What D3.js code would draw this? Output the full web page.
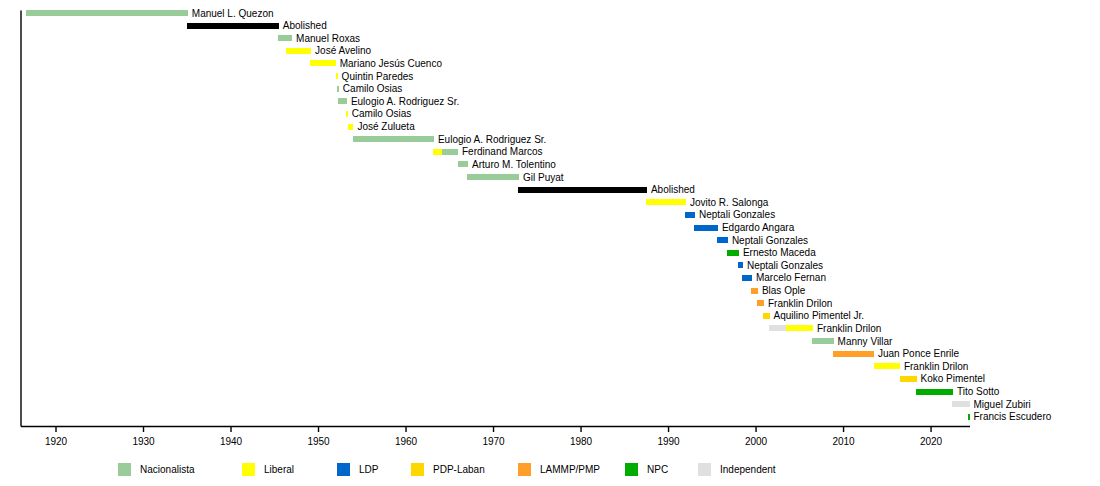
<!DOCTYPE html>
<html>
<head>
<meta charset="utf-8">
<script src="https://cdn.jsdelivr.net/npm/d3@7"></script>
<style>
  html, body { margin: 0; padding: 0; background: #fff; }
  svg { display: block; font-family: "Liberation Sans", Arial, Helvetica, sans-serif; }
</style>
</head>
<body>
<svg id="chart" width="1100" height="486"></svg>
<script>
// ---------- data ----------
const rowNames = [
  "Manuel L. Quezon", "Abolished", "Manuel Roxas", "José Avelino",
  "Mariano Jesús Cuenco", "Quintin Paredes", "Camilo Osias",
  "Eulogio A. Rodriguez Sr.", "Camilo Osias", "José Zulueta",
  "Eulogio A. Rodriguez Sr.", "Ferdinand Marcos", "Arturo M. Tolentino",
  "Gil Puyat", "Abolished", "Jovito R. Salonga", "Neptali Gonzales",
  "Edgardo Angara", "Neptali Gonzales", "Ernesto Maceda", "Neptali Gonzales",
  "Marcelo Fernan", "Blas Ople", "Franklin Drilon", "Aquilino Pimentel Jr.",
  "Franklin Drilon", "Manny Villar", "Juan Ponce Enrile", "Franklin Drilon",
  "Koko Pimentel", "Tito Sotto", "Miguel Zubiri", "Francis Escudero"
];

// one entry per bar segment
const termRow   = [0, 1, 2, 3, 4, 5, 6, 7, 8, 9, 10, 11, 11, 12, 13, 14, 15, 16, 17, 18, 19, 20, 21, 22, 23, 24, 25, 25, 26, 27, 28, 29, 30, 31, 32];
const termStart = [1916.65, 1935.04, 1945.44, 1946.36, 1949.10, 1952.02, 1952.18, 1952.29, 1953.20, 1953.40,
                   1953.99, 1963.14, 1964.17, 1966.00, 1967.03, 1972.85, 1987.48, 1991.93, 1992.95, 1995.58,
                   1996.73, 1997.99, 1998.44, 1999.47, 2000.16, 2000.84, 2001.53, 2003.47, 2006.44, 2008.84,
                   2013.53, 2016.50, 2018.33, 2022.44, 2024.33];
const termEnd   = [1935.12, 1945.52, 1947.04, 1949.21, 1952.02, 1952.24, 1952.38, 1953.30, 1953.40, 1954.05,
                   1963.25, 1964.17, 1966.00, 1967.15, 1972.97, 1987.59, 1992.05, 1993.08, 1995.70, 1996.84,
                   1998.10, 1998.56, 1999.59, 2000.27, 2000.96, 2001.60, 2003.47, 2006.56, 2008.92, 2013.53,
                   2016.50, 2018.40, 2022.56, 2024.45, 2024.45];
const termParty = ["Nacionalista", "Abolished", "Nacionalista", "Liberal", "Liberal", "Liberal", "Nacionalista",
                   "Nacionalista", "Liberal", "Liberal", "Nacionalista", "Liberal", "Nacionalista", "Nacionalista",
                   "Nacionalista", "Abolished", "Liberal", "LDP", "LDP", "LDP", "NPC", "LDP", "LDP",
                   "LAMMP/PMP", "LAMMP/PMP", "PDP-Laban", "Independent", "Liberal", "Nacionalista",
                   "LAMMP/PMP", "Liberal", "PDP-Laban", "NPC", "Independent", "NPC"];

const legendParties = ["Nacionalista", "Liberal", "LDP", "PDP-Laban", "LAMMP/PMP", "NPC", "Independent"];
const tickYears = [1920, 1930, 1940, 1950, 1960, 1970, 1980, 1990, 2000, 2010, 2020];
const yearDomain = [1916, 2024.45];

// ---------- layout ----------
const svg = d3.select("#chart");
const color = d3.scaleOrdinal()
  .domain(["Nacionalista", "Liberal", "LDP", "PDP-Laban", "LAMMP/PMP", "NPC", "Independent", "Abolished"])
  .range(["#99cc99", "#ffff00", "#0066cc", "#ffd700", "#ff9f29", "#00ac00", "#e0e0e0", "#000000"]);

const x = d3.scaleLinear().domain(yearDomain).range([20.5, 969.5]);
const y = d3.scalePoint().domain(d3.range(rowNames.length)).range([13, 416.8]);
const barH = 6;

const terms = termRow.map((r, i) => ({ row: r, start: termStart[i], end: termEnd[i], party: termParty[i] }));

// bars
svg.append("g").selectAll("rect").data(terms).join("rect")
  .attr("x", d => x(d.start))
  .attr("y", d => y(d.row) - barH / 2)
  .attr("width", d => Math.max(1, x(d.end) - x(d.start)))
  .attr("height", barH)
  .attr("fill", d => color(d.party))
  .attr("shape-rendering", "crispEdges");

// labels
const rowEnds = rowNames.map((n, r) => d3.max(terms.filter(t => t.row === r), t => t.end));
svg.append("g").selectAll("text").data(rowNames).join("text")
  .attr("x", (d, r) => x(rowEnds[r]) + 4)
  .attr("y", (d, r) => y(r))
  .attr("dy", "0.35em")
  .attr("font-size", 10)
  .attr("fill", "#000")
  .text(d => d);

// axes
const axisY = 426;
const xAxis = d3.axisBottom(x).tickValues(tickYears).tickFormat(d3.format("d"))
  .tickSize(6).tickSizeOuter(0).tickPadding(6);
const gx = svg.append("g").attr("transform", `translate(0,${axisY})`).call(xAxis);
gx.selectAll("text").attr("font-size", 10).attr("fill", "#000").attr("font-family", null);
gx.selectAll("path, line").attr("stroke", "#000").attr("stroke-width", 1.4);

const yLine = d3.scaleLinear().domain([0, 1]).range([axisY, 10]);
const yAxis = d3.axisLeft(yLine).tickValues([]).tickSizeOuter(0);
const gy = svg.append("g").attr("transform", `translate(${x(yearDomain[0])},0)`).call(yAxis);
gy.selectAll("path").attr("stroke", "#000").attr("stroke-width", 1.4);

// legend
const legendX = [118, 242, 337, 411, 518, 625, 698];
const lg = svg.append("g").attr("transform", "translate(0,463)");
const li = lg.selectAll("g").data(legendParties).join("g")
  .attr("transform", (d, i) => `translate(${legendX[i]},0)`);
li.append("rect").attr("width", 13).attr("height", 13).attr("fill", d => color(d));
li.append("text").attr("x", 22).attr("y", 6.5).attr("dy", "0.35em")
  .attr("font-size", 10).attr("fill", "#000").text(d => d);
</script>
</body>
</html>
